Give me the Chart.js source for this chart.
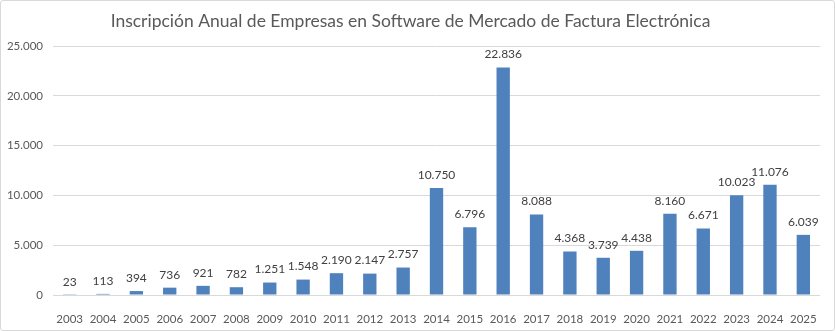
<!DOCTYPE html>
<html>
<head>
<meta charset="utf-8">
<script src="https://cdn.jsdelivr.net/npm/chart.js"></script>
<style>
  html, body { margin: 0; padding: 0; background: #fff; }
  #wrap {
    position: relative; width: 833px; height: 329px;
    border: 1px solid #d9d9d9; border-radius: 3px; overflow: hidden;
  }
  canvas { display: block; }
</style>
</head>
<body>
<div id="wrap"><canvas id="chart" width="833" height="329"></canvas></div>
<script>
// data
const years = ["2003","2004","2005","2006","2007","2008","2009","2010","2011","2012","2013",
  "2014","2015","2016","2017","2018","2019","2020","2021","2022","2023","2024","2025"];
const registrations = [23, 113, 394, 736, 921, 782, 1251, 1548, 2190, 2147, 2757,
  10750, 6796, 22836, 8088, 4368, 3739, 4438, 8160, 6671, 10023, 11076, 6039];
const yTicks = [0, 5000, 10000, 15000, 20000, 25000];

// spanish style thousands separator, also for 4 digit numbers
function fmt(n) {
  return String(n).replace(/\B(?=(\d{3})+(?!\d))/g, ".");
}

// small plugin to write the value above each bar
const barLabels = {
  id: "barLabels",
  afterDatasetsDraw(chart) {
    const ctx = chart.ctx;
    const meta = chart.getDatasetMeta(0);
    ctx.save();
    ctx.font = "12px Lato";
    ctx.fillStyle = "#404040";
    ctx.textAlign = "center";
    ctx.textBaseline = "middle";
    meta.data.forEach((bar, i) => {
      ctx.fillText(fmt(registrations[i]), bar.x, bar.y - 13);
    });
    ctx.restore();
  }
};

Chart.defaults.font.family = "Lato";

new Chart(document.getElementById("chart"), {
  type: "bar",
  data: {
    labels: years,
    datasets: [{
      data: registrations,
      backgroundColor: "#4F81BD",
      borderWidth: 0,
      barPercentage: 0.4,
      categoryPercentage: 1.0
    }]
  },
  options: {
    responsive: false,
    animation: false,
    layout: { padding: { left: 0, right: 14, top: 0, bottom: 0 } },
    plugins: {
      legend: { display: false },
      tooltip: { enabled: false },
      title: {
        display: true,
        text: "Inscripción Anual de Empresas en Software de Mercado de Factura Electrónica",
        color: "#595959",
        font: { size: 17.5, weight: "normal" },
        padding: { top: 10, bottom: 14 }
      }
    },
    scales: {
      x: {
        grid: { display: false },
        border: { display: false },
        ticks: { color: "#595959", font: { size: 11.5 }, padding: 9, maxRotation: 0, autoSkip: false },
        afterFit(scale) { scale.height = 35; }
      },
      y: {
        min: 0,
        max: 25000,
        afterBuildTicks(scale) { scale.ticks = yTicks.map(v => ({ value: v })); },
        grid: { color: "#D9D9D9", lineWidth: 1, drawTicks: false },
        border: { display: false },
        ticks: {
          color: "#595959",
          font: { size: 11.5 },
          padding: 10,
          callback: v => fmt(v)
        },
        afterFit(scale) { scale.width = 52; }
      }
    }
  },
  plugins: [barLabels]
});
</script>
</body>
</html>
